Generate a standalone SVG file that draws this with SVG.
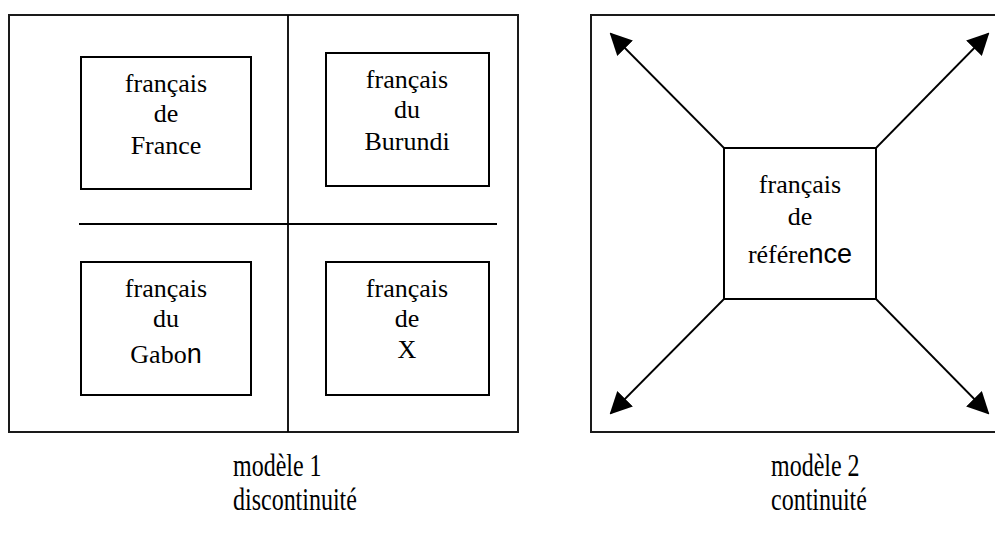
<svg xmlns="http://www.w3.org/2000/svg" width="995" height="541" viewBox="0 0 995 541">
<defs>
<style>
.frame{fill:none;stroke:#1a1a1a;stroke-width:2}
.box{fill:#fff;stroke:#000;stroke-width:2}
.sep{stroke:#000;stroke-width:1.8}
.arr{stroke:#000;stroke-width:1.8;fill:none;marker-end:url(#ah)}
.lbl{fill:#000;text-anchor:middle;font-size:26px;font-family:'Liberation Serif','Times New Roman',serif}
.cap{fill:#000;font-size:24px;font-family:'Liberation Serif','Times New Roman',serif}
.ss{font-family:'Liberation Sans',Arial,sans-serif;font-size:27px}
</style>
<marker id="ah" viewBox="0 0 22 22" refX="20" refY="11" markerWidth="22" markerHeight="22" markerUnits="userSpaceOnUse" orient="auto">
<path d="M0,0 L22,11 L0,22 Z" fill="#000"/>
</marker>
</defs>
<rect width="995" height="541" fill="#fff"/>
<g id="model1">
<rect class="frame" x="9" y="15" width="509" height="417"/>
<line class="sep" x1="288" y1="15" x2="288" y2="432"/>
<line class="sep" x1="79" y1="224" x2="497" y2="224"/>
</g>
<g id="france">
<rect class="box" x="81" y="57" width="170" height="132"/>
<text class="lbl" x="166" y="92">français</text>
<text class="lbl" x="166" y="122">de</text>
<text class="lbl" x="166" y="154">France</text>
</g>
<g id="burundi">
<rect class="box" x="326" y="53" width="163" height="133"/>
<text class="lbl" x="407" y="88">français</text>
<text class="lbl" x="407" y="118">du</text>
<text class="lbl" x="407" y="150">Burundi</text>
</g>
<g id="gabon">
<rect class="box" x="81" y="262" width="170" height="133"/>
<text class="lbl" x="166" y="297">français</text>
<text class="lbl" x="166" y="327">du</text>
<text class="lbl" x="166" y="363">Gabo<tspan class="ss">n</tspan></text>
</g>
<g id="x">
<rect class="box" x="326" y="262" width="163" height="133"/>
<text class="lbl" x="407" y="297">français</text>
<text class="lbl" x="407" y="327">de</text>
<text class="lbl" x="407" y="358">X</text>
</g>
<g id="model2">
<path class="frame" d="M1000,15 L591,15 L591,432 L1000,432"/>
</g>
<g id="reference">
<rect class="box" x="724" y="148" width="152" height="151"/>
<text class="lbl" x="800" y="193">français</text>
<text class="lbl" x="800" y="225">de</text>
<text class="lbl" x="800" y="263">référe<tspan class="ss">nce</tspan></text>
</g>
<g id="connectors">
<line class="arr" x1="724" y1="148" x2="611" y2="34"/>
<line class="arr" x1="876" y1="148" x2="988" y2="34"/>
<line class="arr" x1="724" y1="299" x2="611" y2="413"/>
<line class="arr" x1="876" y1="299" x2="988" y2="413"/>
</g>
<g id="captions">
<text class="cap" transform="translate(233,476) scale(1,1.28)">modèle 1</text>
<text class="cap" transform="translate(233,510) scale(1,1.28)">discontinuité</text>
<text class="cap" transform="translate(771,476) scale(1,1.28)">modèle 2</text>
<text class="cap" transform="translate(771,510) scale(1,1.28)">continuité</text>
</g>
</svg>
